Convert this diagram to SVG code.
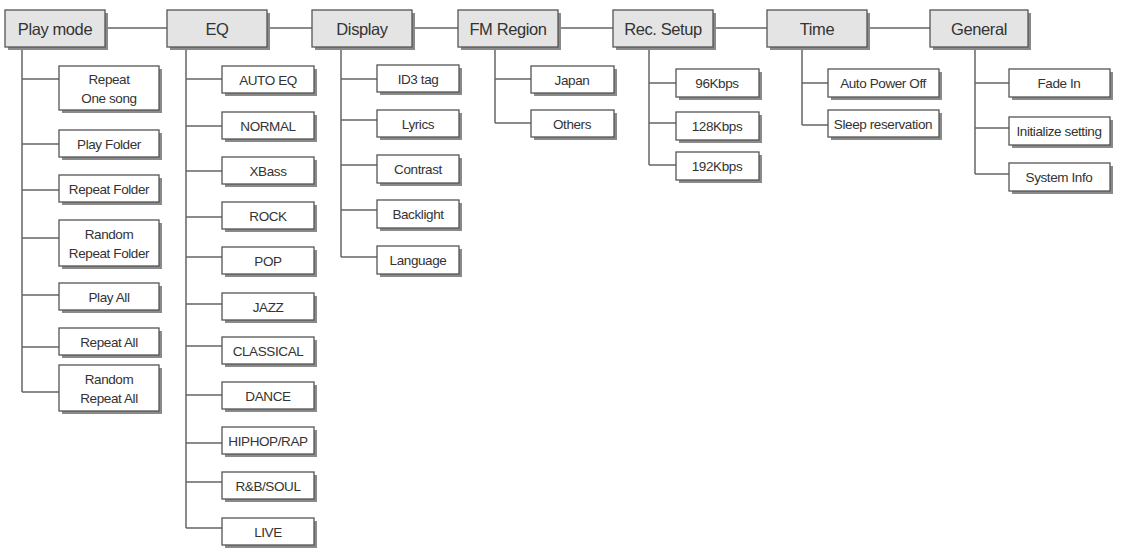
<svg xmlns="http://www.w3.org/2000/svg" width="1126" height="556" viewBox="0 0 1126 556">
<style>
.sh{fill:#8a8a8a}
.hd{fill:#e4e4e4;stroke:#555;stroke-width:1.3}
.bx{fill:#fff;stroke:#555;stroke-width:1.3}
.ht{font-family:"Liberation Sans",Arial,sans-serif;font-size:16.5px;fill:#333;text-anchor:middle;dominant-baseline:central;letter-spacing:-0.4px}
.ct{font-family:"Liberation Sans",Arial,sans-serif;font-size:13.5px;fill:#333;text-anchor:middle;dominant-baseline:central;letter-spacing:-0.4px}
.ln{stroke:#666;stroke-width:1.5;fill:none}
</style>
<rect width="1126" height="556" fill="#fff"/>
<g id="connectors" class="ln">
<path d="M106,28H167M268,28H312M413,28H458M558,28H613M713,28H767M868,28H930"/>
<path d="M22,48V392M22,79H59M22,144H59M22,190H59M22,238H59M22,295H59M22,347H59M22,392H59"/>
<path d="M186,48V528M186,79H222M186,126H222M186,171H222M186,217H222M186,257H222M186,304H222M186,346H222M186,395H222M186,443H222M186,482H222M186,528H222"/>
<path d="M341,48V257M341,79H377M341,120H377M341,165H377M341,210H377M341,257H377"/>
<path d="M495,48V123M495,79H531M495,123H531"/>
<path d="M649,48V165M649,83H676M649,123H676M649,165H676"/>
<path d="M802,48V125M802,83H828M802,125H828"/>
<path d="M975,48V174M975,83H1009M975,128H1009M975,174H1009"/>
</g>
<g id="playmode"><rect class="sh" x="8" y="13" width="100" height="37"/><rect class="hd" x="5" y="10" width="100" height="37"/><text class="ht" x="55" y="29">Play mode</text></g>
<g id="eq"><rect class="sh" x="170" y="13" width="100" height="37"/><rect class="hd" x="167" y="10" width="100" height="37"/><text class="ht" x="217" y="29">EQ</text></g>
<g id="display"><rect class="sh" x="315" y="13" width="100" height="37"/><rect class="hd" x="312" y="10" width="100" height="37"/><text class="ht" x="362" y="29">Display</text></g>
<g id="fmregion"><rect class="sh" x="461" y="13" width="100" height="37"/><rect class="hd" x="458" y="10" width="100" height="37"/><text class="ht" x="508" y="29">FM Region</text></g>
<g id="recsetup"><rect class="sh" x="616" y="13" width="100" height="37"/><rect class="hd" x="613" y="10" width="100" height="37"/><text class="ht" x="663" y="29">Rec. Setup</text></g>
<g id="time"><rect class="sh" x="770" y="13" width="100" height="37"/><rect class="hd" x="767" y="10" width="100" height="37"/><text class="ht" x="817" y="29">Time</text></g>
<g id="general"><rect class="sh" x="933" y="13" width="98" height="37"/><rect class="hd" x="930" y="10" width="98" height="37"/><text class="ht" x="979" y="29">General</text></g>

<g id="repeat-one"><rect class="sh" x="62" y="69" width="100" height="44"/><rect class="bx" x="59" y="66" width="100" height="44"/><text class="ct" x="109" y="88"><tspan x="109" dy="-9">Repeat</tspan><tspan x="109" dy="19">One song</tspan></text></g>
<g id="play-folder"><rect class="sh" x="62" y="133" width="100" height="27"/><rect class="bx" x="59" y="130" width="100" height="27"/><text class="ct" x="109" y="144">Play Folder</text></g>
<g id="repeat-folder"><rect class="sh" x="62" y="178" width="100" height="27"/><rect class="bx" x="59" y="175" width="100" height="27"/><text class="ct" x="109" y="189">Repeat Folder</text></g>
<g id="random-repeat-folder"><rect class="sh" x="62" y="223" width="100" height="46"/><rect class="bx" x="59" y="220" width="100" height="46"/><text class="ct" x="109" y="243"><tspan x="109" dy="-9">Random</tspan><tspan x="109" dy="19">Repeat Folder</tspan></text></g>
<g id="play-all"><rect class="sh" x="62" y="286" width="100" height="27"/><rect class="bx" x="59" y="283" width="100" height="27"/><text class="ct" x="109" y="297">Play All</text></g>
<g id="repeat-all"><rect class="sh" x="62" y="331" width="100" height="27"/><rect class="bx" x="59" y="328" width="100" height="27"/><text class="ct" x="109" y="342">Repeat All</text></g>
<g id="random-repeat-all"><rect class="sh" x="62" y="368" width="100" height="46"/><rect class="bx" x="59" y="365" width="100" height="46"/><text class="ct" x="109" y="388"><tspan x="109" dy="-9">Random</tspan><tspan x="109" dy="19">Repeat All</tspan></text></g>

<g id="auto-eq"><rect class="sh" x="225" y="69" width="92" height="27"/><rect class="bx" x="222" y="66" width="92" height="27"/><text class="ct" x="268" y="80">AUTO EQ</text></g>
<g id="normal"><rect class="sh" x="225" y="115" width="92" height="27"/><rect class="bx" x="222" y="112" width="92" height="27"/><text class="ct" x="268" y="126">NORMAL</text></g>
<g id="xbass"><rect class="sh" x="225" y="160" width="92" height="27"/><rect class="bx" x="222" y="157" width="92" height="27"/><text class="ct" x="268" y="171">XBass</text></g>
<g id="rock"><rect class="sh" x="225" y="205" width="92" height="27"/><rect class="bx" x="222" y="202" width="92" height="27"/><text class="ct" x="268" y="216">ROCK</text></g>
<g id="pop"><rect class="sh" x="225" y="250" width="92" height="27"/><rect class="bx" x="222" y="247" width="92" height="27"/><text class="ct" x="268" y="261">POP</text></g>
<g id="jazz"><rect class="sh" x="225" y="296" width="92" height="27"/><rect class="bx" x="222" y="293" width="92" height="27"/><text class="ct" x="268" y="307">JAZZ</text></g>
<g id="classical"><rect class="sh" x="225" y="340" width="92" height="27"/><rect class="bx" x="222" y="337" width="92" height="27"/><text class="ct" x="268" y="351">CLASSICAL</text></g>
<g id="dance"><rect class="sh" x="225" y="385" width="92" height="27"/><rect class="bx" x="222" y="382" width="92" height="27"/><text class="ct" x="268" y="396">DANCE</text></g>
<g id="hiphop"><rect class="sh" x="225" y="430" width="92" height="27"/><rect class="bx" x="222" y="427" width="92" height="27"/><text class="ct" x="268" y="441">HIPHOP/RAP</text></g>
<g id="rnb"><rect class="sh" x="225" y="475" width="92" height="27"/><rect class="bx" x="222" y="472" width="92" height="27"/><text class="ct" x="268" y="486">R&amp;B/SOUL</text></g>
<g id="live"><rect class="sh" x="225" y="521" width="92" height="27"/><rect class="bx" x="222" y="518" width="92" height="27"/><text class="ct" x="268" y="532">LIVE</text></g>

<g id="id3"><rect class="sh" x="380" y="68" width="82" height="27"/><rect class="bx" x="377" y="65" width="82" height="27"/><text class="ct" x="418" y="79">ID3 tag</text></g>
<g id="lyrics"><rect class="sh" x="380" y="113" width="82" height="27"/><rect class="bx" x="377" y="110" width="82" height="27"/><text class="ct" x="418" y="124">Lyrics</text></g>
<g id="contrast"><rect class="sh" x="380" y="158" width="82" height="28"/><rect class="bx" x="377" y="155" width="82" height="28"/><text class="ct" x="418" y="169">Contrast</text></g>
<g id="backlight"><rect class="sh" x="380" y="203" width="82" height="28"/><rect class="bx" x="377" y="200" width="82" height="28"/><text class="ct" x="418" y="214">Backlight</text></g>
<g id="language"><rect class="sh" x="380" y="249" width="82" height="28"/><rect class="bx" x="377" y="246" width="82" height="28"/><text class="ct" x="418" y="260">Language</text></g>

<g id="japan"><rect class="sh" x="534" y="69" width="83" height="27"/><rect class="bx" x="531" y="66" width="83" height="27"/><text class="ct" x="572" y="80">Japan</text></g>
<g id="others"><rect class="sh" x="534" y="113" width="83" height="27"/><rect class="bx" x="531" y="110" width="83" height="27"/><text class="ct" x="572" y="124">Others</text></g>

<g id="k96"><rect class="sh" x="679" y="72" width="83" height="28"/><rect class="bx" x="676" y="69" width="83" height="28"/><text class="ct" x="717" y="83">96Kbps</text></g>
<g id="k128"><rect class="sh" x="679" y="115" width="83" height="28"/><rect class="bx" x="676" y="112" width="83" height="28"/><text class="ct" x="717" y="126">128Kbps</text></g>
<g id="k192"><rect class="sh" x="679" y="155" width="83" height="28"/><rect class="bx" x="676" y="152" width="83" height="28"/><text class="ct" x="717" y="166">192Kbps</text></g>

<g id="auto-power-off"><rect class="sh" x="831" y="72" width="111" height="28"/><rect class="bx" x="828" y="69" width="111" height="28"/><text class="ct" x="883" y="83">Auto Power Off</text></g>
<g id="sleep"><rect class="sh" x="831" y="113" width="111" height="27"/><rect class="bx" x="828" y="110" width="111" height="27"/><text class="ct" x="883" y="124">Sleep reservation</text></g>

<g id="fade-in"><rect class="sh" x="1012" y="72" width="101" height="28"/><rect class="bx" x="1009" y="69" width="101" height="28"/><text class="ct" x="1059" y="83">Fade In</text></g>
<g id="initialize"><rect class="sh" x="1012" y="120" width="101" height="28"/><rect class="bx" x="1009" y="117" width="101" height="28"/><text class="ct" x="1059" y="131">Initialize setting</text></g>
<g id="system-info"><rect class="sh" x="1012" y="166" width="101" height="28"/><rect class="bx" x="1009" y="163" width="101" height="28"/><text class="ct" x="1059" y="177">System Info</text></g>
</svg>
